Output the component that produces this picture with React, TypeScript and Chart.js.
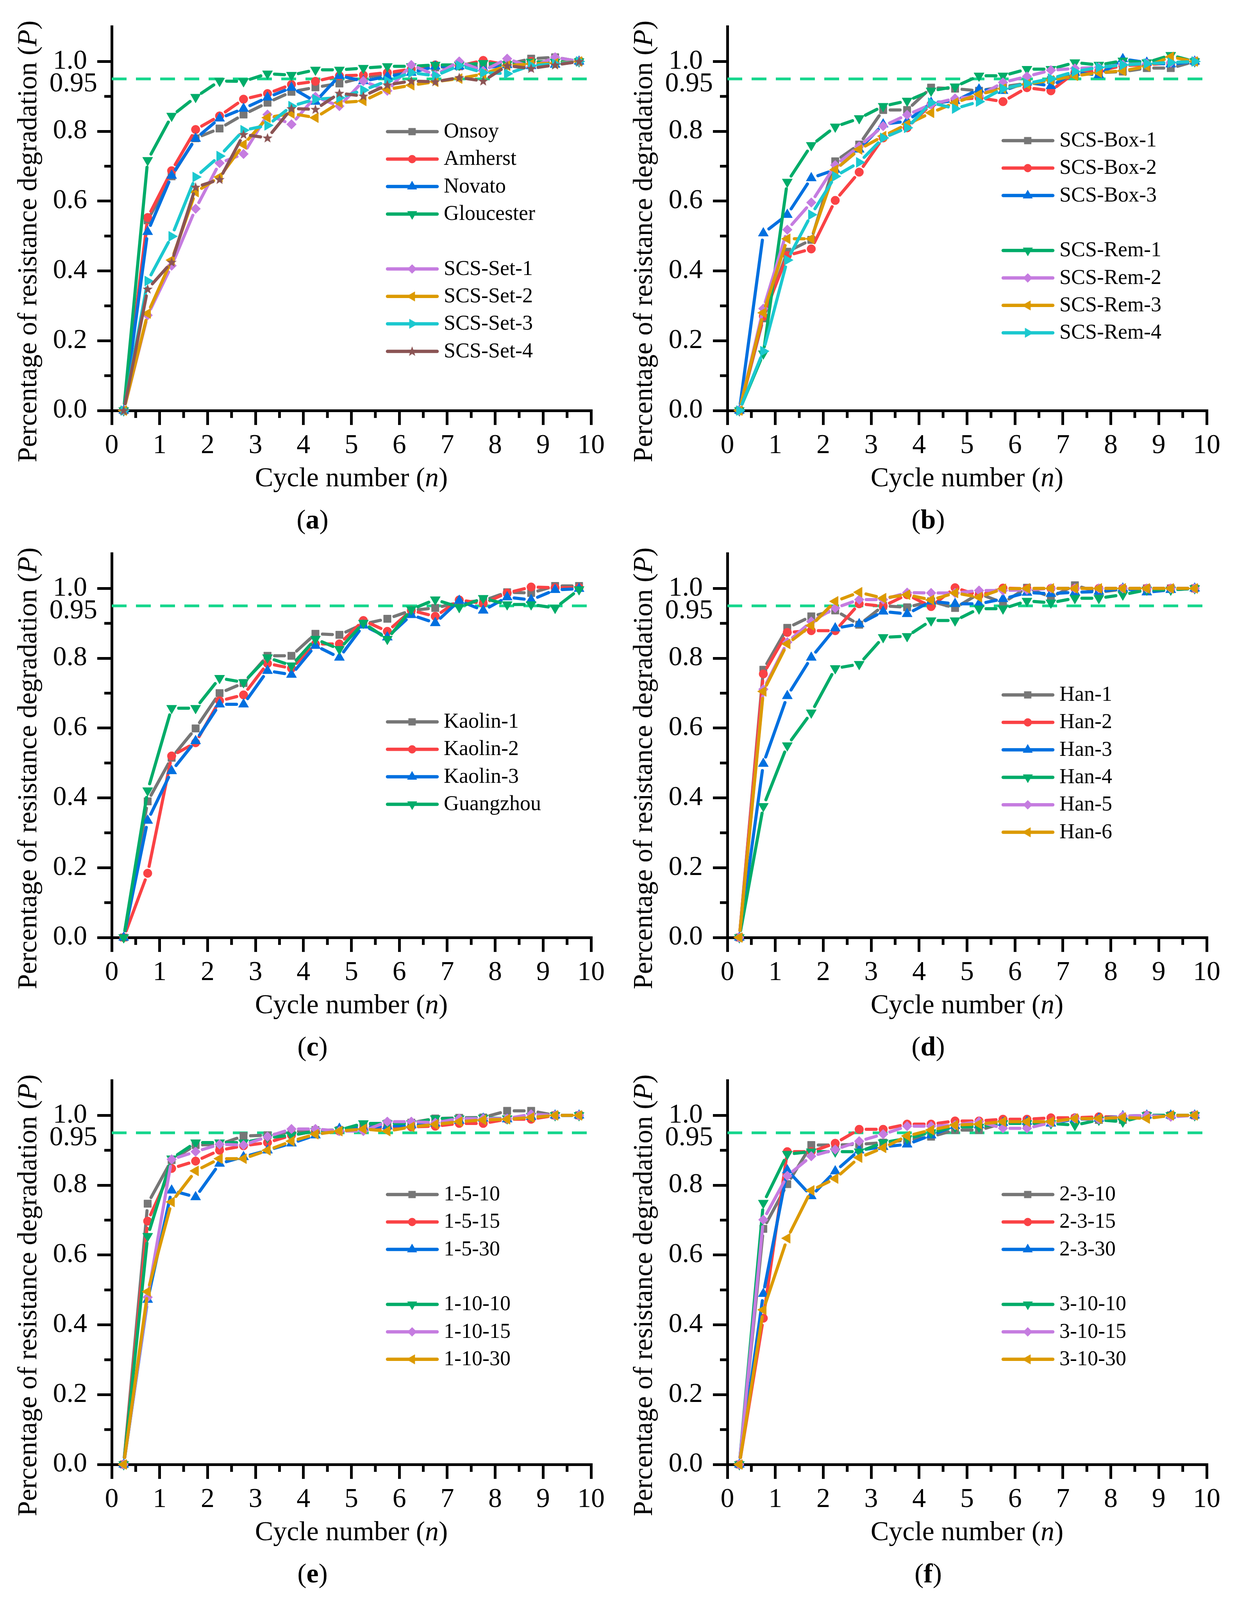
import React, { useEffect, useRef } from 'react';
import { Chart, registerables } from 'chart.js';
import { drawPoint } from 'chart.js/helpers';

Chart.register(...registerables);

// ---------------- data ----------------
const CYCLES = [0.25, 0.75, 1.25, 1.75, 2.25, 2.75, 3.25, 3.75, 4.25, 4.75, 5.25, 5.75, 6.25, 6.75, 7.25, 7.75, 8.25, 8.75, 9.25, 9.75];
const X_TICKS = [0, 1, 2, 3, 4, 5, 6, 7, 8, 9, 10];
const Y_TICK_LABELS = ['0.0', '0.2', '0.4', '0.6', '0.8', '1.0'];
const THRESHOLD = 0.95;
const THRESHOLD_LABEL = '0.95';

// (a)
const A_ONSOY = [0, 0.545, 0.671, 0.78, 0.808, 0.848, 0.882, 0.913, 0.926, 0.937, 0.954, 0.964, 0.973, 0.983, 0.986, 0.988, 0.992, 1.008, 1.012, 1.0];
const A_AMHERST = [0, 0.553, 0.687, 0.805, 0.844, 0.892, 0.908, 0.934, 0.943, 0.959, 0.961, 0.968, 0.978, 0.99, 0.987, 1.003, 0.99, 1.0, 0.997, 1.0];
const A_NOVATO = [0, 0.512, 0.673, 0.779, 0.837, 0.865, 0.897, 0.925, 0.885, 0.959, 0.944, 0.957, 0.968, 0.986, 0.986, 0.981, 0.99, 0.987, 0.991, 1.0];
const A_GLOUCESTER = [0, 0.717, 0.844, 0.898, 0.944, 0.943, 0.965, 0.961, 0.976, 0.976, 0.981, 0.986, 0.986, 0.99, 0.99, 0.995, 0.992, 0.999, 0.999, 1.0];
const A_SET1 = [0, 0.273, 0.415, 0.578, 0.709, 0.735, 0.848, 0.82, 0.899, 0.872, 0.944, 0.916, 0.99, 0.961, 1.0, 0.973, 1.008, 0.984, 1.012, 1.0];
const A_SET2 = [0, 0.278, 0.431, 0.626, 0.669, 0.762, 0.839, 0.851, 0.839, 0.882, 0.887, 0.92, 0.932, 0.942, 0.951, 0.964, 0.988, 0.993, 0.995, 1.0];
const A_SET3 = [0, 0.371, 0.499, 0.669, 0.729, 0.803, 0.817, 0.872, 0.892, 0.896, 0.918, 0.944, 0.968, 0.959, 0.988, 0.968, 0.965, 0.988, 0.993, 1.0];
const A_SET4 = [0, 0.348, 0.425, 0.64, 0.662, 0.791, 0.781, 0.865, 0.863, 0.909, 0.901, 0.933, 0.944, 0.942, 0.954, 0.944, 0.988, 0.98, 0.99, 1.0];

// (b)
const B_BOX1 = [0, 0.264, 0.455, 0.489, 0.714, 0.762, 0.861, 0.861, 0.925, 0.922, 0.916, 0.928, 0.937, 0.947, 0.964, 0.968, 0.971, 0.981, 0.981, 1.0];
const B_BOX2 = [0, 0.27, 0.444, 0.463, 0.602, 0.683, 0.781, 0.81, 0.877, 0.89, 0.896, 0.885, 0.925, 0.916, 0.968, 0.973, 0.988, 0.991, 0.995, 1.0];
const B_BOX3 = [0, 0.508, 0.561, 0.666, 0.69, 0.748, 0.82, 0.829, 0.882, 0.887, 0.92, 0.916, 0.94, 0.93, 0.968, 0.961, 1.007, 0.997, 0.992, 1.0];
const B_REM1 = [0, 0.163, 0.655, 0.76, 0.813, 0.837, 0.872, 0.887, 0.916, 0.928, 0.959, 0.959, 0.978, 0.978, 0.997, 0.99, 1.002, 0.997, 1.018, 1.0];
const B_REM2 = [0, 0.292, 0.518, 0.596, 0.703, 0.757, 0.815, 0.847, 0.877, 0.894, 0.901, 0.94, 0.957, 0.975, 0.98, 0.983, 0.991, 0.994, 0.997, 1.0];
const B_REM3 = [0, 0.28, 0.492, 0.492, 0.69, 0.748, 0.786, 0.82, 0.853, 0.882, 0.906, 0.922, 0.935, 0.946, 0.959, 0.968, 0.973, 0.986, 1.013, 1.0];
const B_REM4 = [0, 0.17, 0.431, 0.561, 0.671, 0.711, 0.781, 0.81, 0.882, 0.865, 0.885, 0.922, 0.937, 0.951, 0.971, 0.983, 0.99, 0.994, 0.997, 1.0];

// (c)
const C_KAOLIN1 = [0, 0.39, 0.515, 0.599, 0.7, 0.729, 0.807, 0.807, 0.87, 0.867, 0.898, 0.913, 0.937, 0.944, 0.96, 0.965, 0.989, 0.987, 1.007, 1.007];
const C_KAOLIN2 = [0, 0.184, 0.52, 0.558, 0.678, 0.695, 0.785, 0.771, 0.841, 0.841, 0.908, 0.877, 0.937, 0.92, 0.967, 0.957, 0.987, 1.004, 1.002, 1.002];
const C_KAOLIN3 = [0, 0.335, 0.477, 0.563, 0.668, 0.668, 0.764, 0.753, 0.836, 0.802, 0.894, 0.86, 0.924, 0.901, 0.965, 0.937, 0.975, 0.967, 0.996, 0.999];
const C_GUANGZHOU = [0, 0.421, 0.657, 0.657, 0.743, 0.731, 0.802, 0.779, 0.855, 0.826, 0.901, 0.855, 0.94, 0.968, 0.946, 0.972, 0.954, 0.954, 0.944, 0.997];

// (d)
const D_HAN1 = [0, 0.767, 0.887, 0.92, 0.937, 0.896, 0.95, 0.946, 0.963, 0.944, 0.985, 0.959, 1.002, 0.975, 1.009, 0.989, 0.998, 1.0, 1.0, 1.0];
const D_HAN2 = [0, 0.755, 0.874, 0.879, 0.879, 0.956, 0.949, 0.982, 0.948, 1.002, 0.98, 1.001, 0.999, 1.0, 1.0, 1.0, 1.0, 1.0, 1.0, 1.0];
const D_HAN3 = [0, 0.498, 0.692, 0.802, 0.886, 0.898, 0.934, 0.927, 0.963, 0.956, 0.956, 0.97, 0.988, 0.985, 0.989, 0.991, 1.0, 0.989, 0.996, 1.0];
const D_HAN4 = [0, 0.376, 0.55, 0.644, 0.771, 0.783, 0.86, 0.863, 0.908, 0.908, 0.942, 0.942, 0.964, 0.959, 0.972, 0.972, 0.982, 0.996, 0.996, 1.0];
const D_HAN5 = [0, 0.711, 0.846, 0.905, 0.944, 0.968, 0.968, 0.988, 0.987, 0.987, 0.994, 0.994, 0.996, 1.0, 1.0, 1.0, 1.0, 1.0, 1.0, 1.0];
const D_HAN6 = [0, 0.705, 0.841, 0.894, 0.963, 0.989, 0.972, 0.982, 0.967, 0.987, 0.975, 0.999, 1.0, 1.0, 1.0, 1.0, 1.0, 1.0, 1.0, 1.0];

// (e)
const E_1_5_10 = [0, 0.747, 0.872, 0.915, 0.917, 0.941, 0.943, 0.953, 0.958, 0.958, 0.972, 0.977, 0.979, 0.991, 0.993, 0.994, 1.013, 1.013, 1.0, 1.0];
const E_1_5_15 = [0, 0.697, 0.848, 0.869, 0.9, 0.913, 0.922, 0.943, 0.955, 0.955, 0.961, 0.965, 0.967, 0.969, 0.977, 0.977, 0.989, 0.989, 1.0, 1.0];
const E_1_5_30 = [0, 0.472, 0.785, 0.766, 0.862, 0.881, 0.9, 0.92, 0.943, 0.962, 0.965, 0.969, 0.972, 0.977, 0.985, 0.991, 0.989, 0.996, 1.0, 1.0];
const E_1_10_10 = [0, 0.654, 0.876, 0.922, 0.922, 0.922, 0.936, 0.943, 0.955, 0.958, 0.977, 0.977, 0.977, 0.991, 0.991, 0.993, 0.991, 0.998, 1.0, 1.0];
const E_1_10_15 = [0, 0.479, 0.874, 0.896, 0.917, 0.915, 0.939, 0.961, 0.961, 0.955, 0.955, 0.982, 0.982, 0.979, 0.991, 0.991, 0.991, 1.003, 1.0, 1.0];
const E_1_10_30 = [0, 0.495, 0.752, 0.841, 0.876, 0.876, 0.9, 0.926, 0.946, 0.955, 0.961, 0.955, 0.967, 0.974, 0.982, 0.987, 0.989, 0.994, 1.0, 1.0];

// (f)
const F_2_3_10 = [0, 0.675, 0.803, 0.915, 0.915, 0.917, 0.922, 0.929, 0.939, 0.958, 0.958, 0.977, 0.977, 0.979, 0.991, 0.987, 0.987, 1.0, 1.0, 1.0];
const F_2_3_15 = [0, 0.419, 0.896, 0.896, 0.92, 0.96, 0.96, 0.975, 0.975, 0.984, 0.984, 0.989, 0.989, 0.993, 0.993, 0.996, 0.996, 1.0, 1.0, 1.0];
const F_2_3_30 = [0, 0.489, 0.843, 0.769, 0.84, 0.9, 0.91, 0.917, 0.943, 0.97, 0.972, 0.979, 0.982, 0.977, 0.989, 0.991, 0.998, 1.0, 1.0, 1.0];
const F_3_10_10 = [0, 0.749, 0.889, 0.896, 0.896, 0.896, 0.922, 0.934, 0.951, 0.967, 0.967, 0.977, 0.977, 0.977, 0.972, 0.987, 0.982, 1.0, 1.0, 1.0];
const F_3_10_15 = [0, 0.701, 0.827, 0.883, 0.902, 0.926, 0.946, 0.969, 0.969, 0.972, 0.982, 0.963, 0.963, 0.979, 0.991, 0.989, 0.998, 1.0, 0.996, 1.0];
const F_3_10_30 = [0, 0.443, 0.648, 0.785, 0.819, 0.879, 0.907, 0.941, 0.958, 0.972, 0.975, 0.982, 0.982, 0.982, 0.991, 0.991, 0.994, 0.991, 1.0, 1.0];

// ---------------- styles ----------------
type StyleKey = 'gray' | 'red' | 'blue' | 'green' | 'violet' | 'orange' | 'cyan' | 'brown';
const STYLES: Record<StyleKey, { color: string; shape: string; radius: number; rotation: number }> = {
  gray: { color: '#767676', shape: 'rect', radius: 13.5, rotation: 0 },
  red: { color: '#FA4245', shape: 'circle', radius: 11, rotation: 0 },
  blue: { color: '#0070E0', shape: 'triangle', radius: 15, rotation: 0 },
  green: { color: '#00AC69', shape: 'triangle', radius: 15, rotation: 180 },
  violet: { color: '#C57CE0', shape: 'rectRot', radius: 12.5, rotation: 0 },
  orange: { color: '#DC9A00', shape: 'triangle', radius: 15, rotation: 270 },
  cyan: { color: '#1BC8CF', shape: 'triangle', radius: 15, rotation: 90 },
  brown: { color: '#8B5454', shape: 'star', radius: 13, rotation: 0 },
};
const THRESHOLD_COLOR = '#14D68C';
const SERIF = '"Liberation Serif", "Times New Roman", serif';

type Series = { label: string; data: number[]; style: StyleKey };
type PanelDef = { id: string; series: Series[]; gapAfter: number; legendTop: number };

const PANELS: PanelDef[] = [
  {
    id: 'a', gapAfter: 3, legendTop: 337,
    series: [
      { label: 'Onsoy', data: A_ONSOY, style: 'gray' },
      { label: 'Amherst', data: A_AMHERST, style: 'red' },
      { label: 'Novato', data: A_NOVATO, style: 'blue' },
      { label: 'Gloucester', data: A_GLOUCESTER, style: 'green' },
      { label: 'SCS-Set-1', data: A_SET1, style: 'violet' },
      { label: 'SCS-Set-2', data: A_SET2, style: 'orange' },
      { label: 'SCS-Set-3', data: A_SET3, style: 'cyan' },
      { label: 'SCS-Set-4', data: A_SET4, style: 'brown' },
    ],
  },
  {
    id: 'b', gapAfter: 2, legendTop: 360,
    series: [
      { label: 'SCS-Box-1', data: B_BOX1, style: 'gray' },
      { label: 'SCS-Box-2', data: B_BOX2, style: 'red' },
      { label: 'SCS-Box-3', data: B_BOX3, style: 'blue' },
      { label: 'SCS-Rem-1', data: B_REM1, style: 'green' },
      { label: 'SCS-Rem-2', data: B_REM2, style: 'violet' },
      { label: 'SCS-Rem-3', data: B_REM3, style: 'orange' },
      { label: 'SCS-Rem-4', data: B_REM4, style: 'cyan' },
    ],
  },
  {
    id: 'c', gapAfter: -1, legendTop: 499,
    series: [
      { label: 'Kaolin-1', data: C_KAOLIN1, style: 'gray' },
      { label: 'Kaolin-2', data: C_KAOLIN2, style: 'red' },
      { label: 'Kaolin-3', data: C_KAOLIN3, style: 'blue' },
      { label: 'Guangzhou', data: C_GUANGZHOU, style: 'green' },
    ],
  },
  {
    id: 'd', gapAfter: -1, legendTop: 430,
    series: [
      { label: 'Han-1', data: D_HAN1, style: 'gray' },
      { label: 'Han-2', data: D_HAN2, style: 'red' },
      { label: 'Han-3', data: D_HAN3, style: 'blue' },
      { label: 'Han-4', data: D_HAN4, style: 'green' },
      { label: 'Han-5', data: D_HAN5, style: 'violet' },
      { label: 'Han-6', data: D_HAN6, style: 'orange' },
    ],
  },
  {
    id: 'e', gapAfter: 2, legendTop: 360,
    series: [
      { label: '1-5-10', data: E_1_5_10, style: 'gray' },
      { label: '1-5-15', data: E_1_5_15, style: 'red' },
      { label: '1-5-30', data: E_1_5_30, style: 'blue' },
      { label: '1-10-10', data: E_1_10_10, style: 'green' },
      { label: '1-10-15', data: E_1_10_15, style: 'violet' },
      { label: '1-10-30', data: E_1_10_30, style: 'orange' },
    ],
  },
  {
    id: 'f', gapAfter: 2, legendTop: 360,
    series: [
      { label: '2-3-10', data: F_2_3_10, style: 'gray' },
      { label: '2-3-15', data: F_2_3_15, style: 'red' },
      { label: '2-3-30', data: F_2_3_30, style: 'blue' },
      { label: '3-10-10', data: F_3_10_10, style: 'green' },
      { label: '3-10-15', data: F_3_10_15, style: 'violet' },
      { label: '3-10-30', data: F_3_10_30, style: 'orange' },
    ],
  },
];

// ---------------- layout ----------------
const CW = 1582;
const CH = 1400;
const ROW_PITCH = 1349;
const AREA_LEFT = 286;
const AREA_RIGHT = 1513;
const AREA_TOP = 66;
const AREA_BOTTOM = 1051;
const AXIS_W = 7;
const MAJOR_LEN = 37;
const MINOR_LEN = 19;
const FONT_PX = 70;
const LEGEND_FONT_PX = 54;
const LEGEND_STEP = 70.3;
const LINE_W = 8;
const SYMBOL_GAP = 18;

let starCanvas: HTMLCanvasElement | null = null;
function getStar(color: string): HTMLCanvasElement {
  if (starCanvas) return starCanvas;
  const c = document.createElement('canvas');
  c.width = 28;
  c.height = 28;
  const g = c.getContext('2d')!;
  g.fillStyle = color;
  g.beginPath();
  for (let k = 0; k < 10; k++) {
    const r = k % 2 === 0 ? 13.5 : 5.6;
    const a = -Math.PI / 2 + (k * Math.PI) / 5;
    const px = 14 + r * Math.cos(a);
    const py = 14.8 + r * Math.sin(a);
    if (k === 0) g.moveTo(px, py);
    else g.lineTo(px, py);
  }
  g.closePath();
  g.fill();
  starCanvas = c;
  return c;
}

function pointStyleFor(key: StyleKey): any {
  const s = STYLES[key];
  return s.shape === 'star' ? getStar(s.color) : s.shape;
}

function drawParts(ctx: CanvasRenderingContext2D, parts: [string, string][], x: number, y: number) {
  let total = 0;
  const widths = parts.map(([t, f]) => {
    ctx.font = f;
    const w = ctx.measureText(t).width;
    total += w;
    return w;
  });
  let cx = x - total / 2;
  ctx.textAlign = 'left';
  parts.forEach(([t, f], i) => {
    ctx.font = f;
    ctx.fillText(t, cx, y);
    cx += widths[i];
  });
}

// Origin-style connecting lines that stop short of each symbol
const gapLinePlugin = {
  id: 'gapLines',
  beforeDatasetDraw(chart: any, args: any) {
    const ds = chart.data.datasets[args.index];
    if (!ds.showLine === false || ds.label === 'threshold') return;
    const pts = args.meta.data;
    const ctx: CanvasRenderingContext2D = chart.ctx;
    ctx.save();
    ctx.strokeStyle = ds.borderColor;
    ctx.lineWidth = LINE_W;
    ctx.lineCap = 'round';
    ctx.beginPath();
    for (let i = 0; i + 1 < pts.length; i++) {
      const a = pts[i];
      const b = pts[i + 1];
      const dx = b.x - a.x;
      const dy = b.y - a.y;
      const L = Math.hypot(dx, dy);
      if (L <= 2 * SYMBOL_GAP + 2) continue;
      const ux = dx / L;
      const uy = dy / L;
      ctx.moveTo(a.x + ux * SYMBOL_GAP, a.y + uy * SYMBOL_GAP);
      ctx.lineTo(b.x - ux * SYMBOL_GAP, b.y - uy * SYMBOL_GAP);
    }
    ctx.stroke();
    ctx.restore();
  },
};

function makeDecor(panel: PanelDef) {
  return {
    id: 'decor_' + panel.id,
    afterDraw(chart: any) {
      const ctx: CanvasRenderingContext2D = chart.ctx;
      const xs = chart.scales.x;
      const ys = chart.scales.y;
      const area = chart.chartArea;
      const normal = `${FONT_PX}px ${SERIF}`;
      const italic = `italic ${FONT_PX}px ${SERIF}`;
      const bold = `bold ${FONT_PX}px ${SERIF}`;
      ctx.save();
      // minor ticks
      ctx.strokeStyle = '#000';
      ctx.lineWidth = AXIS_W;
      ctx.lineCap = 'butt';
      ctx.beginPath();
      for (let k = 0; k < 10; k++) {
        const px = xs.getPixelForValue(k + 0.5);
        ctx.moveTo(px, area.bottom);
        ctx.lineTo(px, area.bottom + MINOR_LEN);
      }
      for (let k = 0; k < 5; k++) {
        const py = ys.getPixelForValue(0.1 + k * 0.2);
        ctx.moveTo(area.left, py);
        ctx.lineTo(area.left - MINOR_LEN, py);
      }
      ctx.stroke();

      // threshold label
      ctx.fillStyle = '#000';
      ctx.font = normal;
      ctx.textAlign = 'right';
      ctx.textBaseline = 'middle';
      ctx.fillText(THRESHOLD_LABEL, 249, ys.getPixelForValue(0.935));

      // legend
      let row = 0;
      panel.series.forEach((s, i) => {
        const st = STYLES[s.style];
        const y = panel.legendTop + row * LEGEND_STEP;
        ctx.strokeStyle = st.color;
        ctx.lineWidth = 8.5;
        ctx.lineCap = 'round';
        ctx.beginPath();
        ctx.moveTo(992, y);
        ctx.lineTo(1119, y);
        ctx.stroke();
        ctx.fillStyle = st.color;
        ctx.lineWidth = 1;
        drawPoint(ctx, { pointStyle: pointStyleFor(s.style), rotation: st.rotation, radius: st.radius * 0.92, borderWidth: 1 } as any, 1055, y);
        ctx.fillStyle = '#000';
        ctx.font = `${LEGEND_FONT_PX}px ${SERIF}`;
        ctx.textAlign = 'left';
        ctx.textBaseline = 'middle';
        ctx.fillText(s.label, 1136, y + 1);
        row += 1;
        if (i === panel.gapAfter) row += 1;
      });

      // axis titles
      ctx.fillStyle = '#000';
      ctx.textBaseline = 'alphabetic';
      drawParts(ctx, [['Cycle number (', normal], ['n', italic], [')', normal]], (area.left + area.right) / 2, 1245);
      ctx.save();
      ctx.translate(93, 618);
      ctx.rotate(-Math.PI / 2);
      drawParts(ctx, [['Percentage of resistance degradation (', normal], ['P', italic], [')', normal]], 0, 0);
      ctx.restore();
      // panel label
      drawParts(ctx, [['(', normal], [panel.id, bold], [')', normal]], 800, 1353);
      ctx.restore();
    },
  };
}

function makeConfig(panel: PanelDef): any {
  const n = panel.series.length;
  const datasets: any[] = panel.series.map((s, i) => {
    const st = STYLES[s.style];
    return {
      label: s.label,
      data: CYCLES.map((x, j) => ({ x, y: s.data[j] })),
      showLine: false,
      borderColor: st.color,
      backgroundColor: st.color,
      borderWidth: LINE_W,
      pointStyle: pointStyleFor(s.style),
      pointRadius: st.radius,
      pointRotation: st.rotation,
      pointBackgroundColor: st.color,
      pointBorderColor: st.color,
      pointBorderWidth: 1,
      clip: false,
      order: n - i,
    };
  });
  datasets.push({
    label: 'threshold',
    data: [{ x: X_TICKS[0], y: THRESHOLD }, { x: X_TICKS[X_TICKS.length - 1], y: THRESHOLD }],
    showLine: true,
    borderColor: THRESHOLD_COLOR,
    borderWidth: 7,
    borderDash: [38, 24],
    pointRadius: 0,
    clip: false,
    order: n + 10,
  });
  const tickFont = { family: SERIF, size: FONT_PX };
  return {
    type: 'line',
    data: { datasets },
    options: {
      animation: false,
      responsive: false,
      devicePixelRatio: 1,
      events: [],
      layout: { padding: { left: 0, right: CW - AREA_RIGHT, top: AREA_TOP, bottom: 0 } },
      plugins: { legend: { display: false }, tooltip: { enabled: false } },
      scales: {
        x: {
          type: 'linear',
          min: X_TICKS[0],
          max: X_TICKS[X_TICKS.length - 1],
          afterFit: (scale: any) => { scale.height = CH - AREA_BOTTOM; },
          ticks: { stepSize: 1, font: tickFont, color: '#000', padding: 12, maxRotation: 0, autoSkip: false },
          grid: { drawOnChartArea: false, drawTicks: true, tickLength: MAJOR_LEN, tickWidth: AXIS_W, tickColor: '#000', lineWidth: AXIS_W, color: '#000' },
          border: { display: true, width: AXIS_W, color: '#000' },
        },
        y: {
          type: 'linear',
          min: 0,
          max: 1.1,
          afterFit: (scale: any) => { scale.width = AREA_LEFT; },
          ticks: {
            stepSize: 0.2,
            includeBounds: false,
            font: tickFont,
            color: '#000',
            padding: 26,
            callback: (_v: any, idx: number) => Y_TICK_LABELS[idx] ?? '',
          },
          grid: { drawOnChartArea: false, drawTicks: true, tickLength: MAJOR_LEN, tickWidth: AXIS_W, tickColor: '#000', lineWidth: AXIS_W, color: '#000' },
          border: { display: true, width: AXIS_W, color: '#000' },
        },
      },
    },
    plugins: [gapLinePlugin, makeDecor(panel)],
  };
}

function Panel({ panel, left, top }: { panel: PanelDef; left: number; top: number }) {
  const ref = useRef<HTMLCanvasElement>(null);
  useEffect(() => {
    const chart = new Chart(ref.current as HTMLCanvasElement, makeConfig(panel));
    return () => chart.destroy();
  }, [panel]);
  return (
    <canvas
      ref={ref}
      width={CW}
      height={CH}
      style={{ position: 'absolute', left, top, width: CW, height: CH }}
    />
  );
}

export default function App() {
  const positions = [
    [0, 0], [1576, 0],
    [0, ROW_PITCH], [1576, ROW_PITCH],
    [0, ROW_PITCH * 2], [1576, ROW_PITCH * 2],
  ];
  return (
    <div style={{ position: 'absolute', left: 0, top: 0, width: 3164, height: 4103, background: '#fff', overflow: 'hidden' }}>
      {PANELS.map((p, i) => (
        <Panel key={p.id} panel={p} left={positions[i][0]} top={positions[i][1]} />
      ))}
    </div>
  );
}
